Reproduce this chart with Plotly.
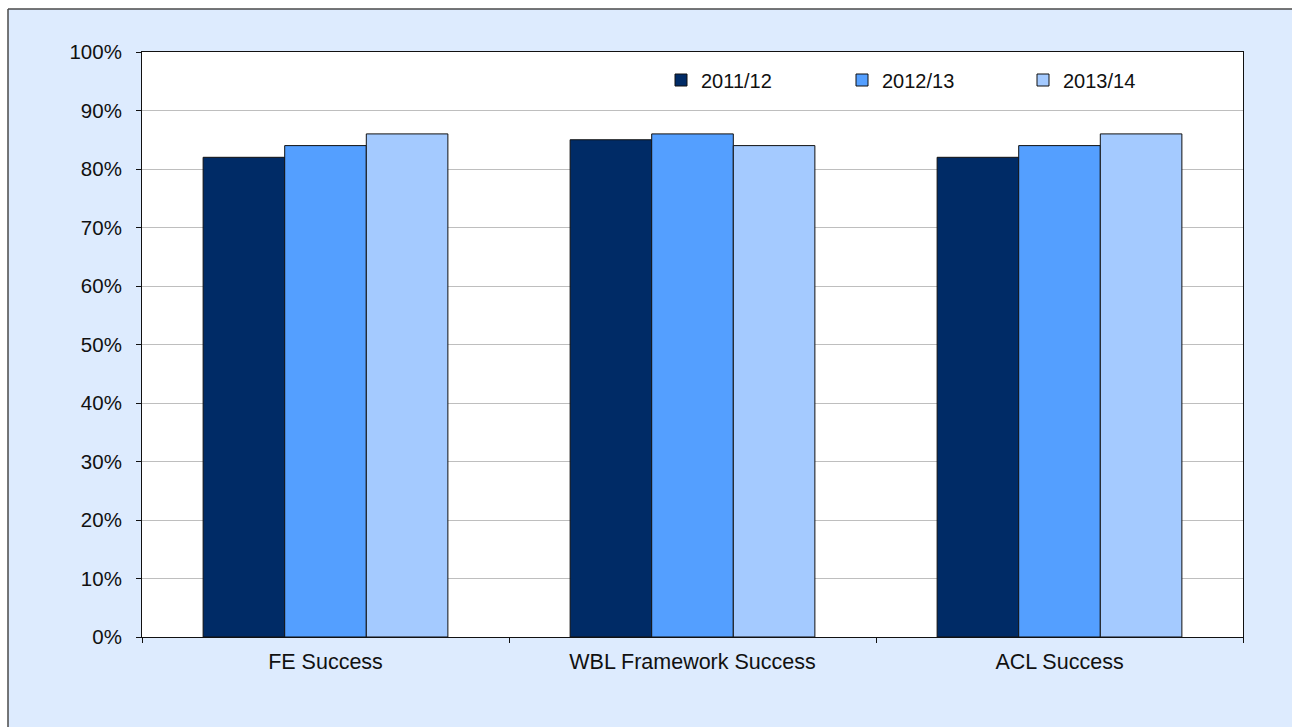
import plotly.graph_objects as go

# Success rates by provision type, per academic year
categories = ["FE Success", "WBL Framework Success", "ACL Success"]
years = ["2011/12", "2012/13", "2013/14"]
rate_2011_12 = [0.82, 0.85, 0.82]
rate_2012_13 = [0.84, 0.86, 0.84]
rate_2013_14 = [0.86, 0.84, 0.86]
series_values = [rate_2011_12, rate_2012_13, rate_2013_14]
colors = ["#002B66", "#549FFF", "#A4CAFF"]

W, H = 1292, 727
L, R, T, B = 142, 49, 52, 90
pw, ph = W - L - R, H - T - B

fig = go.Figure()
for name, vals, col in zip(years, series_values, colors):
    fig.add_trace(go.Bar(
        x=categories, y=vals, name=name,
        marker=dict(color=col, line=dict(color="#111111", width=1)),
    ))

family = "Liberation Sans, Arial, sans-serif"
ink = "#111111"

# frame edges in paper units
fx0 = (8 - L) / pw
fy1 = (ph + T - 9) / ph
fx1 = (W + 200 - L) / pw
fy0 = -(B + 200) / ph

# light-blue chart frame, dark edge on its left and top, white plot area
fig.add_shape(type="rect", xref="paper", yref="paper",
              x0=fx0, x1=fx1, y0=fy0, y1=fy1,
              fillcolor="#DDEBFE", line=dict(width=0), layer="below")
fig.add_shape(type="line", xref="paper", yref="paper",
              x0=fx0, x1=fx0, y0=fy0, y1=fy1,
              line=dict(color="#4a4a4a", width=1.5), layer="below")
fig.add_shape(type="line", xref="paper", yref="paper",
              x0=fx0, x1=fx1, y0=fy1, y1=fy1,
              line=dict(color="#4a4a4a", width=1.5), layer="below")
fig.add_shape(type="rect", xref="paper", yref="paper",
              x0=0, x1=1, y0=0, y1=1,
              fillcolor="white", line=dict(width=0), layer="below")

fig.update_layout(
    width=W, height=H,
    margin=dict(l=L, r=R, t=T, b=B),
    paper_bgcolor="white",
    plot_bgcolor="white",
    barmode="group",
    bargap=0.333,
    bargroupgap=0,
    font=dict(family=family, size=20, color=ink),
    showlegend=True,
    legend=dict(
        orientation="h",
        x=(661 - L) / pw, xanchor="left",
        y=(ph + T - 80) / ph, yanchor="middle",
        bgcolor="rgba(0,0,0,0)",
        entrywidth=136, entrywidthmode="pixels",
        itemwidth=30,
        font=dict(family=family, size=20, color=ink),
    ),
    yaxis=dict(
        range=[0, 1], dtick=0.1, tickformat=".0%",
        tickfont=dict(family=family, size=20.5, color=ink),
        showgrid=True, gridcolor="#BEBEBE", gridwidth=1,
        showline=True, mirror=True, linecolor=ink, linewidth=1,
        ticks="outside", ticklen=5, tickcolor=ink,
        ticklabelstandoff=10,
        zeroline=False, fixedrange=True,
    ),
    xaxis=dict(
        tickfont=dict(family=family, size=21.5, color=ink),
        showline=True, mirror=True, linecolor=ink, linewidth=1,
        ticks="outside", ticklen=5, tickcolor=ink,
        tickson="boundaries",
        ticklabelstandoff=5,
        showgrid=False, fixedrange=True,
    ),
)

fig.write_html("out.html")
